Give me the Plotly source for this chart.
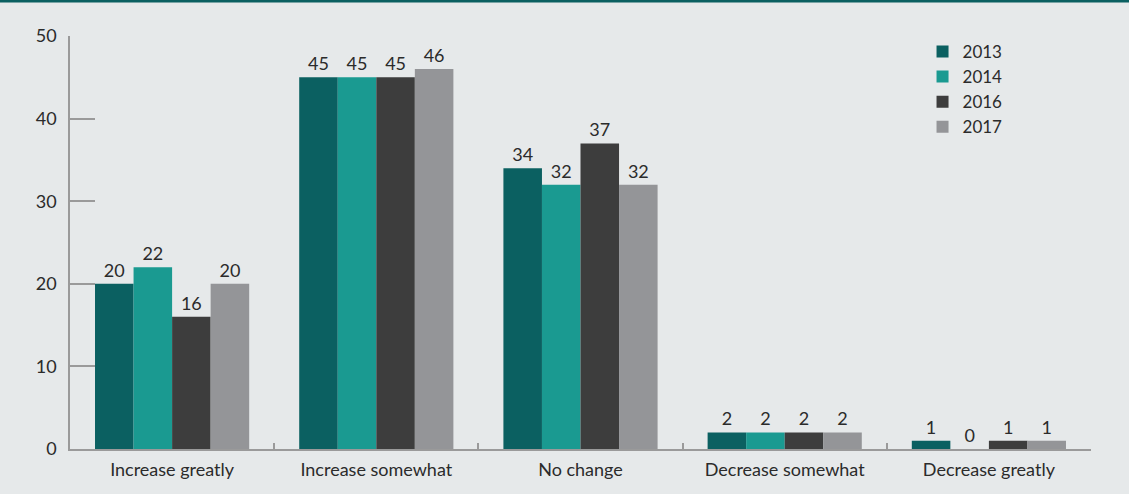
import plotly.graph_objects as go

categories = ["Increase greatly", "Increase somewhat", "No change", "Decrease somewhat", "Decrease greatly"]
years = ["2013", "2014", "2016", "2017"]
values_2013 = [20, 45, 34, 2, 1]
values_2014 = [22, 45, 32, 2, 0]
values_2016 = [16, 45, 37, 2, 1]
values_2017 = [20, 46, 32, 2, 1]
colors = ["#0b6061", "#1a9a91", "#3d3d3d", "#949598"]

series = [values_2013, values_2014, values_2016, values_2017]
font_family = "Lato, 'Open Sans', sans-serif"
text_color = "#2b2b2b"
axis_color = "#9a9a9a"

fig = go.Figure()
for year, vals, col in zip(years, series, colors):
    fig.add_trace(go.Bar(
        name=year,
        x=categories,
        y=vals,
        marker=dict(color=col, line=dict(width=0)),
        text=[str(v) for v in vals],
        textposition="outside",
        cliponaxis=False,
        textfont=dict(size=18, color=text_color, family=font_family),
    ))

fig.update_layout(
    width=1129,
    height=494,
    barmode="group",
    bargap=0.245,
    bargroupgap=0,
    paper_bgcolor="#e6e9ea",
    plot_bgcolor="#e6e9ea",
    margin=dict(l=70, r=38, t=36, b=45),
    font=dict(family=font_family, size=18, color=text_color),
    legend=dict(
        x=0.835, y=1.005, xanchor="left", yanchor="top",
        bgcolor="rgba(0,0,0,0)",
        font=dict(size=17, color=text_color),
        itemwidth=30,
        tracegroupgap=0,
    ),
    showlegend=True,
    uniformtext=dict(minsize=18, mode="show"),
)

fig.update_yaxes(
    range=[0, 50],
    dtick=10,
    showgrid=False,
    zeroline=False,
    showline=True,
    linecolor=axis_color,
    linewidth=1.5,
    ticks="inside",
    ticklen=25,
    tickwidth=1.5,
    tickcolor=axis_color,
    tickfont=dict(size=18, color=text_color),
    ticklabelstandoff=8,
)
fig.update_xaxes(
    showgrid=False,
    showline=True,
    linecolor=axis_color,
    linewidth=1.5,
    ticks="inside",
    tickson="boundaries",
    ticklen=6,
    tickwidth=1.5,
    tickcolor=axis_color,
    tickfont=dict(size=18, color=text_color),
    ticklabelstandoff=4,
)

# Teal rule along the top edge
fig.add_shape(
    type="rect", xref="paper", yref="paper",
    x0=-0.08, x1=1.05, y0=1.0811, y1=1.09,
    fillcolor="#0b6061", line=dict(width=0), layer="above",
)

fig.write_html("out.html")
